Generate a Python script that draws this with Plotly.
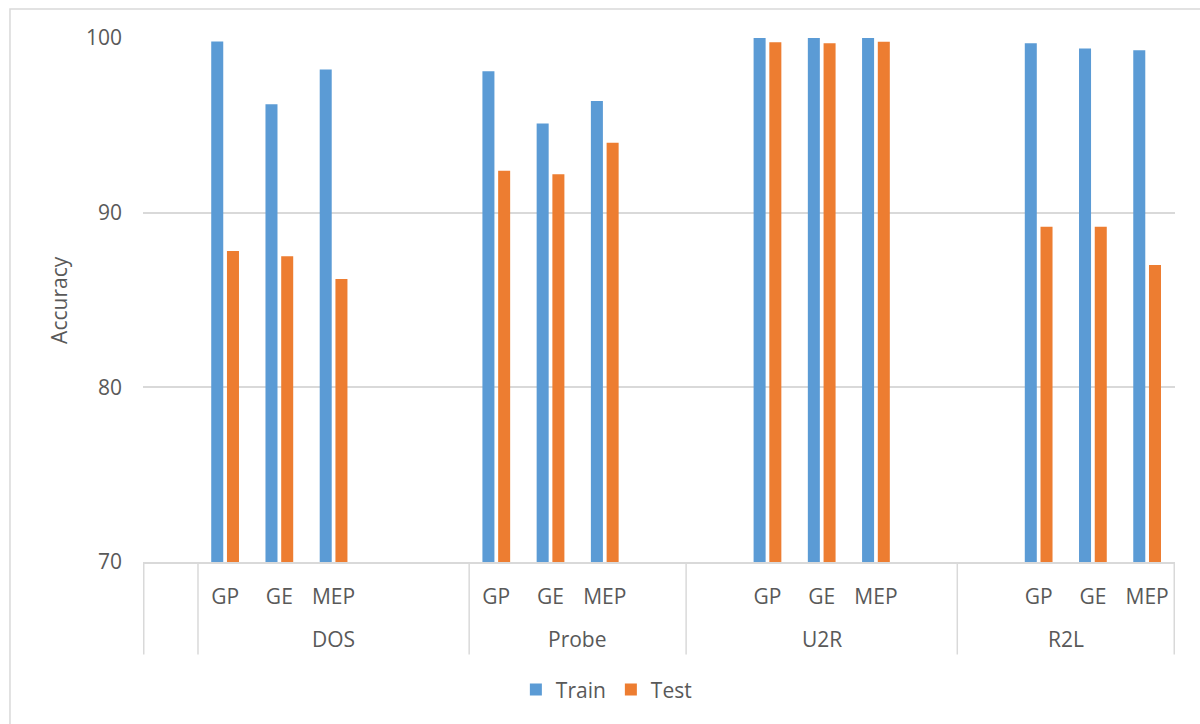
import plotly.graph_objects as go

# Attack classes and the classifiers evaluated on each
groups = ["DOS", "Probe", "U2R", "R2L"]
methods = ["GP", "GE", "MEP"]

# Accuracy (%) per class, in the order GP, GE, MEP
train_acc = [99.8, 96.2, 98.2,
             98.1, 95.1, 96.4,
             100.0, 100.0, 100.0,
             99.7, 99.4, 99.3]
test_acc = [87.8, 87.5, 86.2,
            92.4, 92.2, 94.0,
            99.76, 99.7, 99.78,
            89.2, 89.2, 87.0]

y_ticks = [70, 80, 90, 100]

# Empty category slots placed before / after each class block
lead_pad = [0, 0, 1, 1]
trail_pad = [2, 1, 1, 0]

BLUE = "#5B9BD5"
ORANGE = "#ED7D31"
GRID = "#D9D9D9"
TEXT = "#595959"
FONT = "Open Sans"
FS = 21

# Build the category slots: one empty cell, then each class block
cats = ["pad-start"]
tick_vals, tick_text = [], []
bounds = [0, 1]
train_map, test_map = {}, {}
for gi, g in enumerate(groups):
    for k in range(lead_pad[gi]):
        cats.append(f"{g}-lead{k}")
    for mi, m in enumerate(methods):
        key = f"{g} {m}"
        cats.append(key)
        tick_vals.append(key)
        tick_text.append(m)
        train_map[key] = train_acc[gi * len(methods) + mi]
        test_map[key] = test_acc[gi * len(methods) + mi]
    for k in range(trail_pad[gi]):
        cats.append(f"{g}-trail{k}")
    bounds.append(len(cats))

y_train = [train_map.get(c) for c in cats]
y_test = [test_map.get(c) for c in cats]

fig = go.Figure()
fig.add_trace(go.Bar(name="Train", x=cats, y=y_train, marker_color=BLUE,
                     marker_line_width=0))
fig.add_trace(go.Bar(name="Test", x=cats, y=y_test, marker_color=ORANGE,
                     marker_line_width=0))

# Vertical dividers of the two-level category axis
shapes = []
for b in bounds:
    shapes.append(dict(type="line", xref="x", yref="paper",
                       x0=b - 0.5, x1=b - 0.5, y0=0, y1=-0.1765,
                       line=dict(color=GRID, width=1.5)))
# Chart-area frame
shapes.append(dict(type="rect", xref="paper", yref="paper",
                   x0=-0.1289, x1=1.5, y0=-1.0, y1=1.0553,
                   line=dict(color=GRID, width=1.5), layer="below"))

annotations = []
for gi, g in enumerate(groups):
    center = (bounds[gi + 1] + bounds[gi + 2]) / 2 - 0.5
    annotations.append(dict(text=g, x=center, xref="x", y=-0.147, yref="paper",
                            xanchor="center", yanchor="middle", showarrow=False,
                            font=dict(family=FONT, size=FS, color=TEXT)))
annotations.append(dict(text="Accuracy", x=-0.0815, xref="paper", y=0.5,
                        yref="paper", textangle=-90, xanchor="center",
                        yanchor="middle", showarrow=False,
                        font=dict(family=FONT, size=FS, color=TEXT)))

fig.update_layout(
    width=1200, height=724,
    margin=dict(l=143, r=25, t=38, b=162, autoexpand=False),
    paper_bgcolor="white", plot_bgcolor="white",
    barmode="group", bargap=0.42, bargroupgap=0.236,
    font=dict(family=FONT, size=FS, color=TEXT),
    showlegend=True,
    legend=dict(orientation="h", x=0.449, xanchor="center", y=-0.244,
                yanchor="middle", font=dict(family=FONT, size=FS, color=TEXT),
                itemwidth=30, traceorder="normal"),
    shapes=shapes, annotations=annotations,
)
fig.update_xaxes(type="category", categoryorder="array", categoryarray=cats,
                 tickmode="array", tickvals=tick_vals, ticktext=tick_text,
                 showline=True, linecolor=GRID, linewidth=1.5, ticks="",
                 showgrid=False, ticklabelstandoff=15, automargin=False,
                 tickfont=dict(family=FONT, size=FS, color=TEXT))
fig.update_yaxes(range=[70, 100], tickmode="array", tickvals=y_ticks,
                 showgrid=True, gridcolor=GRID, gridwidth=1.5, zeroline=False,
                 showline=False, ticks="", ticklabelstandoff=20,
                 automargin=False,
                 tickfont=dict(family=FONT, size=FS, color=TEXT))

fig.write_html("out.html")
